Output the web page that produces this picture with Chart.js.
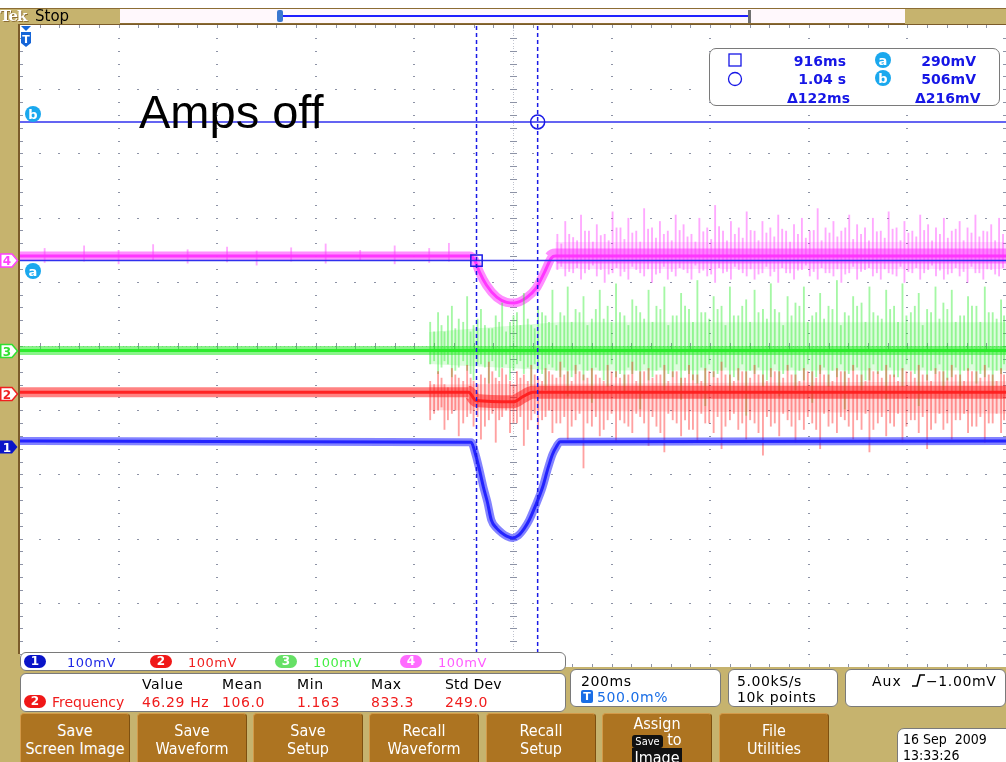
<!DOCTYPE html>
<html>
<head>
<meta charset="utf-8">
<script src="https://cdn.jsdelivr.net/npm/chart.js@4.4.1/dist/chart.umd.min.js"></script>
<style>
  html, body { margin: 0; padding: 0; background: #fff; }
  #scope { position: relative; width: 1006px; height: 762px; background: #c6b36e; overflow: hidden;
           font-family: "DejaVu Sans", sans-serif; }
  #chart { position: absolute; left: 0; top: 0; }
  .abs { position: absolute; }
  .t { position: absolute; line-height: 1; white-space: pre; }
  .box { position: absolute; background: #fff; border: 1.5px solid #7a7a7a; box-sizing: border-box; }
  .pill { position: absolute; height: 13px; border-radius: 7px; color: #fff; font-size: 12px; font-weight: bold;
          text-align: center; line-height: 13px; }
  .btn { position: absolute; top: 713px; height: 60px; width: 110px; background: #ad7421; border: 1px solid #d39a4a;
         border-right-color: #7d5010; border-radius: 4px; box-sizing: border-box; color: #fff; text-align: center;
         font-family: "DejaVu Sans Condensed", "Liberation Sans", sans-serif; font-stretch: condensed;
         font-size: 16px; line-height: 18px; padding-top: 8px; }
  .blue { color: #1616e6; font-weight: bold; font-size: 14px; }
  .red { color: #f01c1c; font-size: 14px; letter-spacing: 0.6px; }
</style>
</head>
<body>
<div id="scope">
  <canvas id="chart" width="1006" height="762"></canvas>

  <!-- top status bar -->
  <div class="abs" style="left:0;top:0;width:1006px;height:8px;background:#fff"></div>
  <div class="abs" style="left:0;top:8px;width:1006px;height:1px;background:#8c6d34"></div>
  <div class="abs" style="left:120px;top:9px;width:785px;height:14px;background:#fff8fc;border-bottom:2px solid #8c6d34"></div>
  <div class="abs" style="left:282px;top:15px;width:466px;height:2px;background:#2020ff"></div>
  <div class="abs" style="left:277px;top:10px;width:6px;height:12px;background:#3a78d0;border-radius:2px"></div>
  <div class="abs" style="left:748px;top:10px;width:3px;height:13px;background:#707070"></div>
  <div class="t" style="left:0px;top:9px;font-family:'DejaVu Serif',serif;font-weight:bold;font-size:15px;letter-spacing:-1px;color:#fff;text-shadow:1px 1px 0 #8c6d34">Tek</div>
  <div class="t" style="left:35px;top:9px;font-size:15px;color:#000">Stop</div>
  <div class="abs" style="left:18px;top:24px;width:988px;height:1px;background:#7b5b2a"></div>
  <div class="abs" style="left:18px;top:24px;width:2px;height:630px;background:#7b5b2a"></div>

  <!-- annotation -->
  <div class="t" style="left:139px;top:88px;font-family:'Liberation Sans',Arial,sans-serif;font-size:47px;color:#000">Amps off</div>

  <!-- cursor readout -->
  <div class="box" style="left:709px;top:48px;width:291px;height:58px;border-radius:7px"></div>
  <div class="t blue" style="left:746px;top:54px;width:100px;text-align:right">916ms</div>
  <div class="t blue" style="left:746px;top:72px;width:100px;text-align:right">1.04 s</div>
  <div class="t blue" style="left:787px;top:91px">Δ122ms</div>
  <div class="t blue" style="left:876px;top:54px;width:100px;text-align:right">290mV</div>
  <div class="t blue" style="left:876px;top:72px;width:100px;text-align:right">506mV</div>
  <div class="t blue" style="left:915px;top:91px">Δ216mV</div>

  <!-- channel scale readout -->
  <div class="box" style="left:20px;top:652px;width:546px;height:19px;border-radius:6px"></div>
  <div class="pill" style="left:24px;top:655px;width:22px;background:#0a14c8">1</div>
  <div class="t" style="left:67px;top:656px;font-size:13px;color:#1e28e6;letter-spacing:0.5px">100mV</div>
  <div class="pill" style="left:150px;top:655px;width:22px;background:#f01818">2</div>
  <div class="t" style="left:188px;top:656px;font-size:13px;color:#f02020;letter-spacing:0.5px">100mV</div>
  <div class="pill" style="left:275px;top:655px;width:22px;background:#66e066">3</div>
  <div class="t" style="left:313px;top:656px;font-size:13px;color:#44ee44;letter-spacing:0.5px">100mV</div>
  <div class="pill" style="left:400px;top:655px;width:22px;background:#ff6cff">4</div>
  <div class="t" style="left:438px;top:656px;font-size:13px;color:#ff5cff;letter-spacing:0.5px">100mV</div>

  <!-- measurement readout -->
  <div class="box" style="left:20px;top:673px;width:546px;height:39px;border-radius:6px"></div>
  <div class="t" style="left:142px;top:677px;font-size:14px;letter-spacing:0.6px">Value</div>
  <div class="t" style="left:222px;top:677px;font-size:14px;letter-spacing:0.6px">Mean</div>
  <div class="t" style="left:297px;top:677px;font-size:14px;letter-spacing:0.6px">Min</div>
  <div class="t" style="left:371px;top:677px;font-size:14px;letter-spacing:0.6px">Max</div>
  <div class="t" style="left:445px;top:677px;font-size:14px;letter-spacing:0.2px">Std Dev</div>
  <div class="pill" style="left:24px;top:695px;width:22px;background:#f01818">2</div>
  <div class="t red" style="left:52px;top:695px;letter-spacing:0">Frequency</div>
  <div class="t red" style="left:142px;top:695px">46.29 Hz</div>
  <div class="t red" style="left:222px;top:695px">106.0</div>
  <div class="t red" style="left:297px;top:695px">1.163</div>
  <div class="t red" style="left:371px;top:695px">833.3</div>
  <div class="t red" style="left:445px;top:695px">249.0</div>

  <!-- timebase / acquisition / trigger readouts -->
  <div class="box" style="left:570px;top:669px;width:151px;height:38px;border-radius:6px"></div>
  <div class="t" style="left:581px;top:674px;font-size:14px;letter-spacing:0.6px">200ms</div>
  <div class="abs" style="left:581px;top:690px;width:12px;height:13px;background:#1a6ee6;border-radius:2px;color:#fff;font-size:11px;font-weight:bold;text-align:center;line-height:13px">T</div>
  <div class="t" style="left:597px;top:690px;font-size:14px;letter-spacing:0.6px;color:#1a6ee6">500.0m%</div>
  <div class="box" style="left:728px;top:669px;width:110px;height:38px;border-radius:6px"></div>
  <div class="t" style="left:737px;top:674px;font-size:14px;letter-spacing:0.6px">5.00kS/s</div>
  <div class="t" style="left:737px;top:690px;font-size:14px;letter-spacing:0.6px">10k points</div>
  <div class="box" style="left:845px;top:669px;width:161px;height:38px;border-radius:6px"></div>
  <div class="t" style="left:872px;top:674px;font-size:14px;letter-spacing:1px">Aux</div>
  <div class="t" style="left:926px;top:674px;font-size:14px;letter-spacing:0.6px">−1.00mV</div>

  <svg class="abs" style="left:0;top:0" width="1006" height="762">
    <g font-family="DejaVu Sans, sans-serif" font-weight="bold" font-size="12" text-anchor="middle">
      <rect x="729" y="54" width="12" height="12" fill="none" stroke="#1616e6" stroke-width="1.3"/>
      <circle cx="735" cy="79" r="6.5" fill="none" stroke="#1616e6" stroke-width="1.3"/>
      <circle cx="883" cy="60" r="8" fill="#1aa8ee"/><text x="883" y="64.5" fill="#fff" font-size="13">a</text>
      <circle cx="883" cy="78" r="8" fill="#1aa8ee"/><text x="883" y="82.5" fill="#fff" font-size="13">b</text>
      <!-- trigger position marker -->
      <path d="M21,26 L31,26 L26,31 Z" fill="#1565d8"/>
      <path d="M21,32 H31 V43 L26,47 L21,43 Z" fill="#1565d8"/>
      <text x="26" y="43" fill="#fff" font-size="11">T</text>
      <!-- channel ground tags -->
      <path d="M0.75,254 H12 L17.5,260.5 L12,267 H0.75 Z" fill="#fff" stroke="#ff40ff" stroke-width="1.5"/>
      <text x="7" y="265" fill="#ff40ff">4</text>
      <path d="M0.75,344.5 H12 L17.5,351 L12,357.5 H0.75 Z" fill="#fff" stroke="#30e030" stroke-width="1.5"/>
      <text x="7" y="355.5" fill="#30e030">3</text>
      <path d="M0.75,387.5 H12 L17.5,394 L12,400.5 H0.75 Z" fill="#fff" stroke="#f02020" stroke-width="1.5"/>
      <text x="7" y="398.5" fill="#f02020">2</text>
      <path d="M0,440.5 H12 L17.5,447 L12,453.5 H0 Z" fill="#0a14c8"/>
      <text x="7" y="451.5" fill="#fff">1</text>
      <!-- cursor level tags -->
      <circle cx="33" cy="114" r="8" fill="#1aa8ee"/><text x="33" y="118.5" fill="#fff" font-size="13">b</text>
      <circle cx="33" cy="271" r="8" fill="#1aa8ee"/><text x="33" y="275.5" fill="#fff" font-size="13">a</text>
      <!-- trigger slope -->
      <path d="M912,686 H917 L920,675 H925" fill="none" stroke="#000" stroke-width="1.6"/>
    </g>
  </svg>

  <!-- soft keys -->
  <div class="btn" style="left:20px">Save<br>Screen Image</div>
  <div class="btn" style="left:137px">Save<br>Waveform</div>
  <div class="btn" style="left:253px">Save<br>Setup</div>
  <div class="btn" style="left:369px">Recall<br>Waveform</div>
  <div class="btn" style="left:486px">Recall<br>Setup</div>
  <div class="btn" style="left:602px;padding-top:2px;line-height:16px">Assign<br><span style="background:#111;border-radius:3px;font-size:11px;padding:0 3px">Save</span> to<br><span style="background:#111;padding:0 2px">Image</span></div>
  <div class="btn" style="left:719px">File<br>Utilities</div>
  <div class="box" style="left:897px;top:728px;width:112px;height:40px;border-radius:7px 0 0 0"></div>
  <div class="t" style="left:903px;top:732px;font-size:14px;font-family:'DejaVu Sans Condensed','Liberation Sans',sans-serif">16 Sep  2009</div>
  <div class="t" style="left:903px;top:748px;font-size:14px;font-family:'DejaVu Sans Condensed','Liberation Sans',sans-serif">13:33:26</div>
</div>

<script>
// horizontal: 200 ms/div, 2 s record, trigger at 0.5 % of the record
const timeStart = -10;
const timeEnd = 1990;
const mvPerDiv = 100;

// ground marker of each channel, in divisions from screen centre
const groundDiv = { ch1: -1.57, ch2: -0.75, ch3: -0.08, ch4: 1.34 };

// ch1 (blue) - clean trace with the dip between the cursors
const ch1Time = [-10, 905, 914, 922, 930, 938, 946, 957, 967, 977, 989, 1001, 1013, 1023, 1036, 1050, 1060, 1070, 1078, 1086, 1990];
const ch1Mv   = [9, 7, -12, -36, -63, -86, -114, -127, -134, -139, -142, -138, -127, -114, -91, -63, -36, -12, 0, 8, 9];

// ch2 (red)
const ch2Time = [-10, 900, 915, 990, 1010, 1030, 1990];
const ch2Mv   = [3, 3, -10, -12, -4, 3, 3];

// ch3 (green)
const ch3Time = [-10, 1990];
const ch3Mv   = [1, 1];

// ch4 (magenta)
const ch4Time = [-10, 902, 912, 922, 936, 957, 977, 993, 1017, 1037, 1054, 1068, 1076, 1990];
const ch4Mv   = [6, 6, 0, -19, -39, -58, -66, -67, -59, -44, -19, 3, 6, 6];

// noise spikes [time ms, low mV, high mV]
const ch3Spikes = [[822,-20,45],[838,-35,60],[851,-15,30],[866,-40,70],[880,-25,50],[897,-30,85],[910,-45,40],[925,-20,65],
  [941,-50,35],[955,-30,55],[968,-25,75],[984,-45,45],[998,-20,60],[1012,-35,90],[1027,-55,40],[1041,-30,70],[1056,-60,55],
  [1070,-25,95],[1086,-40,60],[1101,-70,100],[1117,-35,65],[1133,-45,85],[1150,-80,50],[1166,-30,95],[1182,-55,70],
  [1199,-40,105],[1216,-65,55],[1232,-35,80],[1248,-90,60],[1265,-45,95],[1281,-30,70],[1297,-60,100],[1314,-40,55],
  [1331,-75,90],[1347,-35,65],[1364,-50,110],[1380,-85,60],[1397,-40,85],[1413,-30,70],[1430,-65,100],[1447,-45,55],
  [1463,-100,80],[1480,-35,95],[1497,-55,65],[1513,-40,105],[1530,-70,60],[1547,-30,85],[1563,-60,75],[1580,-45,100],
  [1597,-80,55],[1613,-35,90],[1630,-55,70],[1647,-40,110],[1663,-90,60],[1680,-30,85],[1697,-60,75],[1713,-45,100],
  [1730,-35,55],[1747,-75,95],[1763,-40,70],[1780,-55,105],[1797,-30,60],[1813,-85,90],[1830,-45,65],[1847,-35,100],
  [1863,-60,75],[1880,-40,95],[1897,-70,55],[1913,-30,85],[1930,-50,70],[1947,-40,100],[1963,-65,60],[1980,-35,80]];
const ch3SpikesFine = [[830,-15,30],[845,-25,40],[858,-20,55],[873,-30,35],[889,-15,45],[904,-35,30],[918,-20,50],
  [933,-25,40],[948,-15,35],[962,-40,45],[976,-20,30],[991,-30,55],[1005,-15,40],[1020,-25,50],[1034,-20,35],[1049,-35,60],
  [1063,-20,45],[1078,-30,40],[1094,-25,55],[1109,-40,45],[1125,-20,60],[1141,-30,40],[1158,-25,65],[1174,-45,50],
  [1190,-20,45],[1207,-35,60],[1224,-25,40],[1240,-30,70],[1256,-20,50],[1273,-40,45],[1289,-25,65],[1305,-35,40],
  [1322,-20,55],[1339,-30,70],[1355,-45,45],[1372,-25,60],[1388,-20,50],[1405,-35,65],[1421,-25,40],[1438,-40,55],
  [1455,-20,70],[1471,-30,45],[1488,-25,60],[1505,-45,50],[1521,-20,65],[1538,-35,40],[1555,-25,55],[1571,-30,70],
  [1588,-20,45],[1605,-40,60],[1621,-25,50],[1638,-30,65],[1655,-20,40],[1671,-35,55],[1688,-25,70],[1705,-45,45],
  [1721,-20,60],[1738,-30,50],[1755,-25,65],[1771,-40,45],[1788,-20,55],[1805,-35,70],[1821,-25,40],[1838,-30,60],
  [1855,-20,50],[1871,-45,65],[1888,-25,45],[1905,-30,55],[1921,-20,70],[1938,-35,45],[1955,-25,60],[1971,-30,50],[1986,-20,55]];

const ch2Spikes = [[822,-40,20],[838,-25,35],[851,-55,15],[866,-30,40],[880,-65,25],[897,-35,45],[910,-50,20],[925,-70,30],
  [941,-40,50],[955,-75,25],[968,-35,40],[984,-60,20],[998,-45,35],[1012,-80,30],[1027,-40,45],[1041,-55,25],[1056,-35,40],
  [1070,-60,30],[1086,-45,50],[1101,-70,35],[1117,-40,45],[1133,-115,30],[1150,-50,40],[1166,-65,25],[1182,-40,45],
  [1199,-75,35],[1216,-45,30],[1232,-60,50],[1248,-35,35],[1265,-80,40],[1281,-50,30],[1297,-90,45],[1314,-40,35],
  [1331,-65,25],[1347,-55,45],[1364,-75,30],[1380,-45,40],[1397,-60,35],[1413,-85,50],[1430,-40,30],[1447,-55,40],
  [1463,-70,35],[1480,-45,45],[1497,-95,30],[1513,-50,40],[1530,-65,35],[1547,-40,45],[1563,-75,30],[1580,-55,40],
  [1597,-45,35],[1613,-85,45],[1630,-50,30],[1647,-60,40],[1663,-40,35],[1680,-70,45],[1697,-55,30],[1713,-90,40],
  [1730,-45,35],[1747,-65,45],[1763,-50,30],[1780,-75,40],[1797,-40,35],[1813,-60,45],[1830,-85,30],[1847,-45,40],
  [1863,-55,35],[1880,-70,45],[1897,-40,30],[1913,-60,40],[1930,-50,35],[1947,-75,45],[1963,-45,30],[1980,-60,40]];
const ch2SpikesFine = [[830,-30,15],[845,-20,25],[858,-40,10],[873,-25,30],[889,-45,20],[904,-30,25],[918,-35,15],
  [933,-50,25],[948,-30,35],[962,-40,20],[976,-25,30],[991,-45,15],[1005,-35,25],[1020,-55,20],[1034,-30,30],[1049,-40,20],
  [1063,-25,35],[1078,-45,25],[1094,-35,30],[1109,-50,20],[1125,-30,35],[1141,-45,25],[1158,-35,30],[1174,-55,20],
  [1190,-30,35],[1207,-40,25],[1224,-50,30],[1240,-30,20],[1256,-45,35],[1273,-35,25],[1289,-60,30],[1305,-30,20],
  [1322,-45,35],[1339,-40,25],[1355,-55,30],[1372,-30,20],[1388,-45,35],[1405,-35,25],[1421,-50,30],[1438,-30,20],
  [1455,-45,35],[1471,-40,25],[1488,-60,30],[1505,-35,20],[1521,-45,35],[1538,-30,25],[1555,-50,30],[1571,-40,20],
  [1588,-35,35],[1605,-55,25],[1621,-30,30],[1638,-45,20],[1655,-35,35],[1671,-50,25],[1688,-40,30],[1705,-30,20],
  [1721,-55,35],[1738,-35,25],[1755,-45,30],[1771,-30,20],[1788,-50,35],[1805,-40,25],[1821,-35,30],[1838,-55,20],
  [1855,-30,35],[1871,-45,25],[1888,-40,30],[1905,-30,20],[1921,-50,35],[1938,-35,25],[1955,-45,30],[1971,-30,20],[1986,-40,30]];

const ch4Spikes = [[40,-4,18],[120,-2,22],[190,-6,15],[260,0,24],[330,-5,16],[410,-3,20],[470,-8,14],[540,-2,19],
  [610,-5,25],[680,0,15],[750,-6,22],[820,-4,18],[860,-2,26],
  [1080,-15,40],[1096,-25,60],[1112,-20,35],[1128,-30,70],[1144,-15,45],[1160,-25,55],[1176,-35,40],[1192,-20,75],
  [1208,-25,50],[1224,-30,65],[1240,-15,45],[1256,-25,80],[1272,-35,50],[1288,-20,60],[1304,-30,45],[1320,-25,70],
  [1336,-15,55],[1352,-30,40],[1368,-20,65],[1384,-25,50],[1400,-35,85],[1416,-20,45],[1432,-30,60],[1448,-15,50],
  [1464,-25,75],[1480,-30,45],[1496,-20,60],[1512,-25,50],[1528,-35,70],[1544,-20,45],[1560,-30,55],[1576,-15,65],
  [1592,-25,45],[1608,-30,80],[1624,-20,50],[1640,-25,60],[1656,-35,45],[1672,-20,70],[1688,-30,55],[1704,-15,50],
  [1720,-25,65],[1736,-30,45],[1752,-20,75],[1768,-25,50],[1784,-35,60],[1800,-20,45],[1816,-30,70],[1832,-15,55],
  [1848,-25,50],[1864,-30,65],[1880,-20,45],[1896,-25,60],[1912,-35,50],[1928,-20,70],[1944,-30,45],[1960,-15,55],[1976,-25,65]];
const ch4SpikesFine = [[1088,-10,25],[1104,-18,40],[1120,-12,30],[1136,-20,45],[1152,-8,28],[1168,-15,38],[1184,-22,30],
  [1200,-12,50],[1216,-18,32],[1232,-10,42],[1248,-20,28],[1264,-14,48],[1280,-22,34],[1296,-10,40],[1312,-18,30],
  [1328,-12,46],[1344,-20,36],[1360,-8,28],[1376,-16,44],[1392,-22,32],[1408,-12,52],[1424,-18,30],[1440,-10,40],
  [1456,-20,34],[1472,-14,46],[1488,-22,30],[1504,-10,42],[1520,-18,36],[1536,-12,48],[1552,-20,28],[1568,-16,40],
  [1584,-8,34],[1600,-18,46],[1616,-12,30],[1632,-20,42],[1648,-14,36],[1664,-22,50],[1680,-10,32],[1696,-18,40],
  [1712,-12,30],[1728,-20,44],[1744,-14,34],[1760,-22,48],[1776,-10,30],[1792,-18,42],[1808,-12,36],[1824,-20,46],
  [1840,-8,30],[1856,-16,40],[1872,-22,34],[1888,-12,48],[1904,-18,30],[1920,-10,42],[1936,-20,36],[1952,-14,44],
  [1968,-22,30],[1984,-12,40]];

// dense part of the noise haze [time ms, low mV, high mV]
const ch3Haze = [[820, -20, 30], [1080, -30, 45], [1990, -30, 45]];
const ch2Haze = [[820, -25, 15], [1990, -30, 20]];
const ch4Haze = [[1076, -14, 28], [1990, -14, 28]];

// cursors (time cursors, and ch1 level cursors a / b)
const cursorTimes = [916, 1040];
const cursorLevelsMv = [290, 506];

const colors = { ch1: '30,30,255', ch2: '255,30,30', ch3: '40,235,40', ch4: '255,50,255' };

function toDiv(ch, mv) { return groundDiv[ch] + mv / mvPerDiv; }
function points(ch, times, mvs) { return times.map((t, i) => ({ x: t, y: toDiv(ch, mvs[i]) })); }
function bars(ch, spikes) { return spikes.map(s => ({ x: s[0], y: [toDiv(ch, s[1]), toDiv(ch, s[2])] })); }

function traceSets(ch, times, mvs, narrow, wide, noisyFrom, order) {
  const c = colors[ch];
  return [
    { type: 'line', data: points(ch, times, mvs), order: order, borderColor: 'rgba(' + c + ',0.95)', borderWidth: 3,
      pointRadius: 0, cubicInterpolationMode: 'monotone' },
    { type: 'line', data: points(ch, times, mvs), order: order + 0.5, borderColor: 'rgba(' + c + ',0.55)',
      pointRadius: 0, cubicInterpolationMode: 'monotone',
      segment: { borderWidth: ctx => ctx.p0.parsed.x >= noisyFrom ? wide : narrow } }
  ];
}
function spikeSet(ch, spikes, order) {
  return { type: 'bar', data: bars(ch, spikes), order: order, backgroundColor: 'rgba(' + colors[ch] + ',0.42)',
           barThickness: 1.2, grouped: false, borderWidth: 0 };
}
function hazeSets(ch, haze, order) {
  const c = colors[ch];
  return [
    { type: 'line', data: haze.map(h => ({ x: h[0], y: toDiv(ch, h[1]) })), order: order, pointRadius: 0, borderWidth: 0 },
    { type: 'line', data: haze.map(h => ({ x: h[0], y: toDiv(ch, h[2]) })), order: order, pointRadius: 0, borderWidth: 0,
      fill: '-1', backgroundColor: 'rgba(' + c + ',0.16)' }
  ];
}

const ya = toDiv('ch1', cursorLevelsMv[0]);
const yb = toDiv('ch1', cursorLevelsMv[1]);
const cursorBlue = '#1a1ae6';

const datasets = [
  { type: 'line', data: [{ x: cursorTimes[0], y: ya }], order: 0, showLine: false, pointStyle: 'rect', pointRadius: 8,
    pointBorderColor: cursorBlue, pointBackgroundColor: 'rgba(0,0,0,0)', pointBorderWidth: 1.5 },
  { type: 'line', data: [{ x: cursorTimes[1], y: yb }], order: 0, showLine: false, pointStyle: 'circle', pointRadius: 7,
    pointBorderColor: cursorBlue, pointBackgroundColor: 'rgba(0,0,0,0)', pointBorderWidth: 1.5 },
  { type: 'line', data: [{ x: cursorTimes[0], y: -5 }, { x: cursorTimes[0], y: 5 }], order: 1, borderColor: cursorBlue,
    borderWidth: 1.5, borderDash: [4, 3], pointRadius: 0 },
  { type: 'line', data: [{ x: cursorTimes[1], y: -5 }, { x: cursorTimes[1], y: 5 }], order: 1, borderColor: cursorBlue,
    borderWidth: 1.5, borderDash: [4, 3], pointRadius: 0 },
  { type: 'line', data: [{ x: timeStart, y: ya }, { x: timeEnd, y: ya }], order: 1, borderColor: '#3030ee',
    borderWidth: 1.5, pointRadius: 0 },
  { type: 'line', data: [{ x: timeStart, y: yb }, { x: timeEnd, y: yb }], order: 1, borderColor: '#3030ee',
    borderWidth: 1.5, pointRadius: 0 },
  ...traceSets('ch1', ch1Time, ch1Mv, 8, 8, 9999, 2),
  ...traceSets('ch2', ch2Time, ch2Mv, 10, 13, 820, 4),
  spikeSet('ch2', ch2Spikes.concat(ch2SpikesFine), 5),
  ...hazeSets('ch2', ch2Haze, 5.5),
  ...traceSets('ch3', ch3Time, ch3Mv, 9, 11, 9999, 6),
  spikeSet('ch3', ch3Spikes.concat(ch3SpikesFine), 7),
  ...hazeSets('ch3', ch3Haze, 7.5),
  ...traceSets('ch4', ch4Time, ch4Mv, 9, 15, 1068, 8),
  spikeSet('ch4', ch4Spikes.concat(ch4SpikesFine), 9),
  ...hazeSets('ch4', ch4Haze, 9.5)
];

// screen graticule: 10 x 10 divisions of dots, edge ticks and centre crosshair
const graticule = {
  id: 'graticule',
  beforeDraw(chart) {
    const { ctx, chartArea: a } = chart;
    ctx.save();
    ctx.fillStyle = '#ffffff';
    ctx.fillRect(a.left, a.top, a.right - a.left, a.bottom - a.top);
    ctx.restore();
  },
  beforeDatasetsDraw(chart) {
    const { ctx, chartArea: a } = chart;
    const dx = (a.right - a.left) / 10, dy = (a.bottom - a.top) / 10;
    const cx = a.left + 5 * dx, cy = a.top + 5 * dy;
    ctx.save();
    ctx.fillStyle = '#8d93a6';
    for (let i = 1; i < 10; i++) {
      const gx = Math.round(a.left + i * dx), gy = Math.round(a.top + i * dy);
      for (let k = 1; k < 50; k++) {
        ctx.fillRect(gx - 1, Math.round(a.top + k * dy / 5), 2, 1);
        ctx.fillRect(Math.round(a.left + k * dx / 5) - 1, gy, 2, 1);
      }
    }
    for (let k = 1; k < 50; k++) {
      const ty = Math.round(a.top + k * dy / 5), tx = Math.round(a.left + k * dx / 5);
      ctx.fillRect(a.left, ty, 3, 1);
      ctx.fillRect(a.right - 3, ty, 3, 1);
      ctx.fillRect(tx, a.top, 1, 3);
      ctx.fillRect(tx, a.bottom - 3, 1, 3);
      ctx.fillRect(Math.round(cx) - 3, ty, 7, 1);
      ctx.fillRect(tx, Math.round(cy) - 3, 1, 7);
    }
    ctx.fillStyle = 'rgba(140,146,166,0.55)';
    for (let k = 0; k < 250; k++) {
      ctx.fillRect(Math.round(cx), Math.round(a.top + k * dy / 25), 1, 1);
      ctx.fillRect(Math.round(a.left + k * dx / 25), Math.round(cy), 1, 1);
    }
    ctx.restore();
  }
};

new Chart(document.getElementById('chart'), {
  type: 'line',
  data: { datasets: datasets },
  options: {
    responsive: false,
    animation: false,
    events: [],
    layout: { autoPadding: false, padding: { left: 20, top: 25, right: 0, bottom: 95 } },
    plugins: { legend: { display: false }, tooltip: { enabled: false } },
    scales: {
      x: { type: 'linear', min: timeStart, max: timeEnd, display: false, offset: false },
      y: { type: 'linear', min: -5, max: 5, display: false }
    }
  },
  plugins: [graticule]
});
</script>
</body>
</html>
